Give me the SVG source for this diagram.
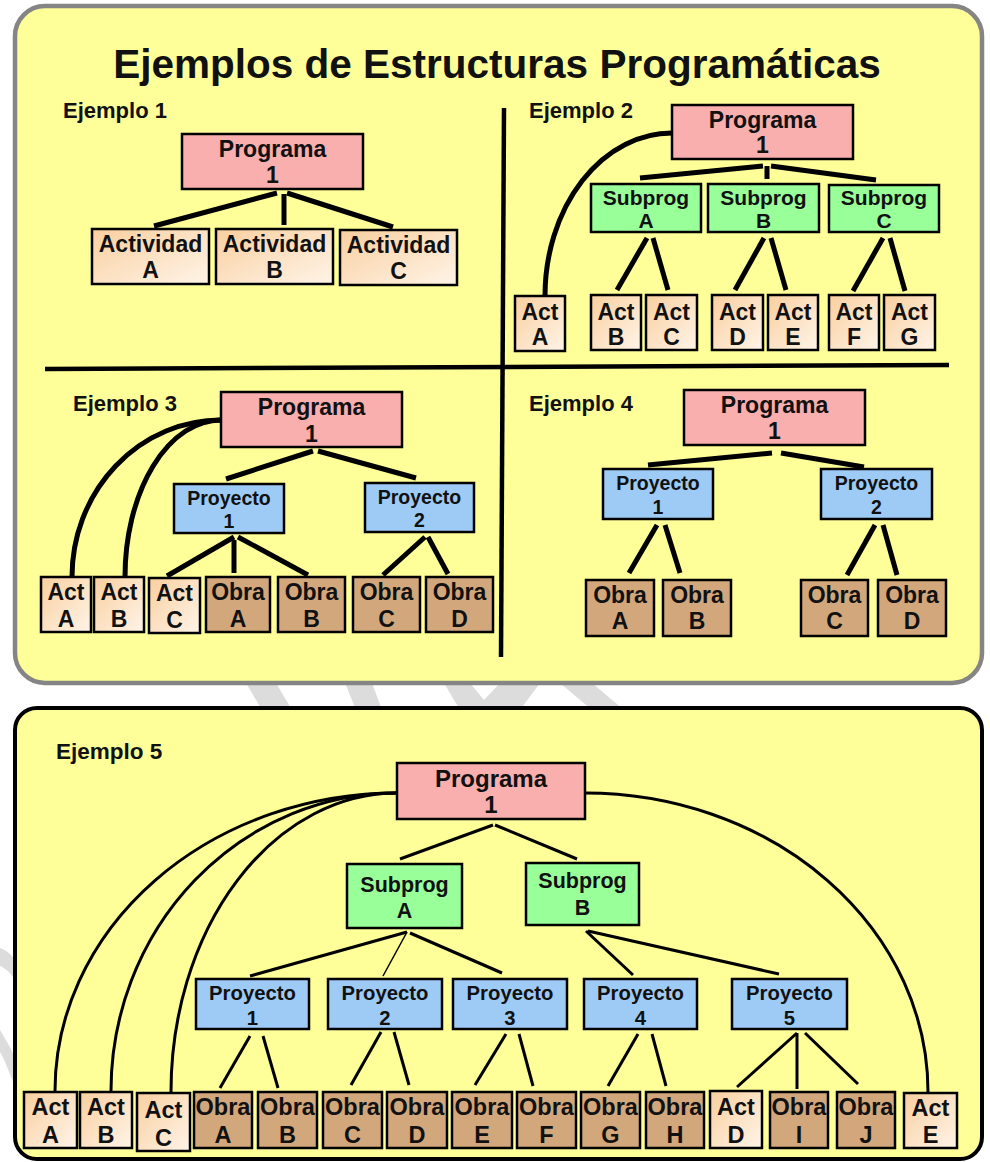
<svg xmlns="http://www.w3.org/2000/svg" width="990" height="1162" viewBox="0 0 990 1162">
<defs>
<linearGradient id="actg" x1="0" y1="0" x2="1" y2="1">
<stop offset="0" stop-color="#f9cf9f"/>
<stop offset="1" stop-color="#fff4e8"/>
</linearGradient>
<style>
.bx{stroke:#000;stroke-width:2.5}
.pg{fill:#f8afad}
.sp{fill:#99ff99}
.pr{fill:#9ecbf5}
.ob{fill:#d2a77c}
.ac{fill:url(#actg)}
text{font-family:"Liberation Sans",Arial,sans-serif;font-weight:bold;fill:#111}
.t{text-anchor:middle}
.f23{font-size:23px}
.f21{font-size:21px}
.f19{font-size:19.5px}
.f24{font-size:23.5px}
.lab{font-size:22px}
.c1{stroke:#000;stroke-width:5;fill:none}
.c2{stroke:#000;stroke-width:3;fill:none}
.wm{fill:#dcdcdc}
</style>
</defs>
<rect width="990" height="1162" fill="#fff"/>
<!-- watermark fragments -->
<g id="watermark">
<path class="wm" d="M246,683 L276,683 L292,710 L262,710 Z"/>
<path class="wm" d="M345,683 L372,683 L382,710 L356,710 Z"/>
<path class="wm" d="M444,683 L470,683 L484,700 L500,683 L540,683 L520,710 L460,710 Z"/>
<path class="wm" d="M560,683 L592,683 L624,710 L592,710 Z"/>
<path class="wm" d="M0,948 C6,950 12,955 15,960 L15,980 C10,972 5,968 0,966 Z"/>
<path class="wm" d="M0,1030 C6,1040 12,1050 15,1058 L15,1086 C10,1075 5,1060 0,1052 Z"/>
</g>
<g id="panel1">
<rect x="15" y="6" width="967" height="677" rx="30" fill="#ffff99" stroke="#858585" stroke-width="4.5"/>
<text x="497" y="78" class="t" style="font-size:40.5px">Ejemplos de Estructuras Programáticas</text>
<line x1="504" y1="108" x2="501" y2="657" stroke="#000" stroke-width="4.5"/>
<line x1="45" y1="369" x2="949" y2="365" stroke="#000" stroke-width="4.5"/>
<text x="63" y="118" class="lab">Ejemplo 1</text>
<text x="529" y="118" class="lab">Ejemplo 2</text>
<text x="73" y="411" class="lab">Ejemplo 3</text>
<text x="529" y="411" class="lab">Ejemplo 4</text>
</g>
<g id="panel2">
<rect x="15" y="708" width="967" height="451" rx="22" fill="#ffff99" stroke="#000" stroke-width="4"/>
<text x="56" y="759" class="lab" style="font-size:22.5px">Ejemplo 5</text>
</g>

<g id="connectors">
<!-- Ejemplo 1 -->
<line class="c1" x1="277" y1="193" x2="154" y2="226"/>
<line class="c1" x1="284" y1="194" x2="284" y2="225"/>
<line class="c1" x1="287" y1="193" x2="393" y2="227"/>
<!-- Ejemplo 2 -->
<path class="c1" d="M672,133 A127,163 0 0 0 545,296"/>
<line class="c1" x1="763" y1="166" x2="640" y2="178"/>
<line class="c1" x1="767" y1="166" x2="767" y2="179"/>
<line class="c1" x1="771" y1="166" x2="876" y2="180"/>
<line class="c1" x1="647" y1="238" x2="617" y2="290"/>
<line class="c1" x1="653" y1="238" x2="668" y2="290"/>
<line class="c1" x1="764" y1="238" x2="735" y2="290"/>
<line class="c1" x1="771" y1="238" x2="786" y2="290"/>
<line class="c1" x1="883" y1="238" x2="853" y2="291"/>
<line class="c1" x1="890" y1="238" x2="905" y2="291"/>
<!-- Ejemplo 3 -->
<path class="c1" d="M221,420 A149,157 0 0 0 72,577"/>
<path class="c1" d="M221,420 A96,157 0 0 0 125,577"/>
<line class="c1" x1="313" y1="451" x2="226" y2="479"/>
<line class="c1" x1="318" y1="451" x2="416" y2="478"/>
<line class="c1" x1="234" y1="537" x2="167" y2="576"/>
<line class="c1" x1="234" y1="540" x2="234" y2="573"/>
<line class="c1" x1="238" y1="537" x2="308" y2="575"/>
<line class="c1" x1="425" y1="537" x2="383" y2="575"/>
<line class="c1" x1="428" y1="537" x2="448" y2="574"/>
<!-- Ejemplo 4 -->
<line class="c1" x1="772" y1="453" x2="648" y2="465"/>
<line class="c1" x1="781" y1="453" x2="864" y2="467"/>
<line class="c1" x1="657" y1="525" x2="629" y2="573"/>
<line class="c1" x1="665" y1="525" x2="680" y2="573"/>
<line class="c1" x1="875" y1="525" x2="847" y2="575"/>
<line class="c1" x1="883" y1="525" x2="897" y2="575"/>
<!-- Ejemplo 5 -->
<path class="c2" d="M397,793 A342,298 0 0 0 55,1091"/>
<path class="c2" d="M397,793 A286,298 0 0 0 111,1091"/>
<path class="c2" d="M397,793 A226,299 0 0 0 171,1092"/>
<path class="c2" d="M585,793 A343,299 0 0 1 928,1092"/>
<line class="c2" x1="493" y1="825" x2="400" y2="859"/>
<line class="c2" x1="495" y1="825" x2="577" y2="859"/>
<line class="c2" x1="407" y1="932" x2="250" y2="976"/>
<line stroke="#000" stroke-width="1.5" x1="407" y1="932" x2="383" y2="976"/>
<line class="c2" x1="410" y1="933" x2="502" y2="973"/>
<line class="c2" x1="586" y1="931" x2="633" y2="975"/>
<line class="c2" x1="588" y1="931" x2="779" y2="974"/>
<line class="c2" x1="250" y1="1036" x2="220" y2="1088"/>
<line class="c2" x1="263" y1="1036" x2="278" y2="1088"/>
<line class="c2" x1="381" y1="1032" x2="351" y2="1085"/>
<line class="c2" x1="394" y1="1032" x2="409" y2="1085"/>
<line class="c2" x1="506" y1="1034" x2="475" y2="1085"/>
<line class="c2" x1="519" y1="1034" x2="533" y2="1086"/>
<line class="c2" x1="638" y1="1034" x2="608" y2="1086"/>
<line class="c2" x1="652" y1="1034" x2="666" y2="1086"/>
<line class="c2" x1="797" y1="1033" x2="737" y2="1087"/>
<line class="c2" x1="797" y1="1033" x2="797" y2="1089"/>
<line class="c2" x1="805" y1="1033" x2="858" y2="1084"/>
</g>

<!-- Ejemplo 1 nodes -->
<g id="e1-programa"><rect class="bx pg" x="182" y="134" width="181" height="55"/><text class="t f23" x="272.5" y="157">Programa</text><text class="t f23" x="272.5" y="183">1</text></g>
<g id="e1-actA"><rect class="bx ac" x="92" y="229" width="117" height="55"/><text class="t f23" x="150.5" y="252">Actividad</text><text class="t f23" x="150.5" y="278">A</text></g>
<g id="e1-actB"><rect class="bx ac" x="216" y="229" width="117" height="55"/><text class="t f23" x="274.5" y="252">Actividad</text><text class="t f23" x="274.5" y="278">B</text></g>
<g id="e1-actC"><rect class="bx ac" x="340" y="230" width="117" height="55"/><text class="t f23" x="398.5" y="253">Actividad</text><text class="t f23" x="398.5" y="279">C</text></g>

<!-- Ejemplo 2 nodes -->
<g id="e2-programa"><rect class="bx pg" x="672" y="105" width="181" height="54"/><text class="t f23" x="762.5" y="128">Programa</text><text class="t f23" x="762.5" y="153">1</text></g>
<g id="e2-subA"><rect class="bx sp" x="591" y="184" width="110" height="48"/><text class="t f21" x="646" y="205">Subprog</text><text class="t f21" x="646" y="228">A</text></g>
<g id="e2-subB"><rect class="bx sp" x="708" y="184" width="111" height="48"/><text class="t f21" x="763.5" y="205">Subprog</text><text class="t f21" x="763.5" y="228">B</text></g>
<g id="e2-subC"><rect class="bx sp" x="829" y="185" width="110" height="47"/><text class="t f21" x="884" y="205">Subprog</text><text class="t f21" x="884" y="228">C</text></g>
<g id="e2-actA"><rect class="bx ac" x="515" y="296" width="50" height="55"/><text class="t f23" x="540" y="320">Act</text><text class="t f23" x="540" y="345">A</text></g>
<g id="e2-actB"><rect class="bx ac" x="591" y="295" width="50" height="55"/><text class="t f23" x="616" y="320">Act</text><text class="t f23" x="616" y="345">B</text></g>
<g id="e2-actC"><rect class="bx ac" x="646" y="295" width="51" height="55"/><text class="t f23" x="671.5" y="320">Act</text><text class="t f23" x="671.5" y="345">C</text></g>
<g id="e2-actD"><rect class="bx ac" x="712" y="295" width="51" height="55"/><text class="t f23" x="737.5" y="320">Act</text><text class="t f23" x="737.5" y="345">D</text></g>
<g id="e2-actE"><rect class="bx ac" x="768" y="295" width="50" height="55"/><text class="t f23" x="793" y="320">Act</text><text class="t f23" x="793" y="345">E</text></g>
<g id="e2-actF"><rect class="bx ac" x="829" y="295" width="50" height="55"/><text class="t f23" x="854" y="320">Act</text><text class="t f23" x="854" y="345">F</text></g>
<g id="e2-actG"><rect class="bx ac" x="884" y="295" width="51" height="55"/><text class="t f23" x="909.5" y="320">Act</text><text class="t f23" x="909.5" y="345">G</text></g>

<!-- Ejemplo 3 nodes -->
<g id="e3-programa"><rect class="bx pg" x="221" y="392" width="181" height="55"/><text class="t f23" x="311.5" y="415">Programa</text><text class="t f23" x="311.5" y="442">1</text></g>
<g id="e3-proy1"><rect class="bx pr" x="174" y="484" width="110" height="49"/><text class="t f19" x="229" y="505">Proyecto</text><text class="t f19" x="229" y="528">1</text></g>
<g id="e3-proy2"><rect class="bx pr" x="365" y="483" width="109" height="49"/><text class="t f19" x="419.5" y="504">Proyecto</text><text class="t f19" x="419.5" y="527">2</text></g>
<g id="e3-actA"><rect class="bx ac" x="41" y="577" width="50" height="55"/><text class="t f23" x="66" y="600">Act</text><text class="t f23" x="66" y="627">A</text></g>
<g id="e3-actB"><rect class="bx ac" x="94" y="577" width="50" height="55"/><text class="t f23" x="119" y="600">Act</text><text class="t f23" x="119" y="627">B</text></g>
<g id="e3-actC"><rect class="bx ac" x="149" y="578" width="51" height="55"/><text class="t f23" x="174.5" y="601">Act</text><text class="t f23" x="174.5" y="628">C</text></g>
<g id="e3-obraA"><rect class="bx ob" x="206" y="577" width="64" height="55"/><text class="t f23" x="238" y="600">Obra</text><text class="t f23" x="238" y="627">A</text></g>
<g id="e3-obraB"><rect class="bx ob" x="278" y="577" width="67" height="55"/><text class="t f23" x="311.5" y="600">Obra</text><text class="t f23" x="311.5" y="627">B</text></g>
<g id="e3-obraC"><rect class="bx ob" x="353" y="577" width="67" height="55"/><text class="t f23" x="386.5" y="600">Obra</text><text class="t f23" x="386.5" y="627">C</text></g>
<g id="e3-obraD"><rect class="bx ob" x="426" y="577" width="67" height="55"/><text class="t f23" x="459.5" y="600">Obra</text><text class="t f23" x="459.5" y="627">D</text></g>

<!-- Ejemplo 4 nodes -->
<g id="e4-programa"><rect class="bx pg" x="684" y="390" width="181" height="55"/><text class="t f23" x="774.5" y="413">Programa</text><text class="t f23" x="774.5" y="439">1</text></g>
<g id="e4-proy1"><rect class="bx pr" x="603" y="469" width="110" height="50"/><text class="t f19" x="658" y="490">Proyecto</text><text class="t f19" x="658" y="514">1</text></g>
<g id="e4-proy2"><rect class="bx pr" x="821" y="469" width="111" height="50"/><text class="t f19" x="876.5" y="490">Proyecto</text><text class="t f19" x="876.5" y="514">2</text></g>
<g id="e4-obraA"><rect class="bx ob" x="586" y="580" width="68" height="56"/><text class="t f23" x="620" y="603">Obra</text><text class="t f23" x="620" y="629">A</text></g>
<g id="e4-obraB"><rect class="bx ob" x="663" y="580" width="68" height="56"/><text class="t f23" x="697" y="603">Obra</text><text class="t f23" x="697" y="629">B</text></g>
<g id="e4-obraC"><rect class="bx ob" x="801" y="580" width="67" height="56"/><text class="t f23" x="834.5" y="603">Obra</text><text class="t f23" x="834.5" y="629">C</text></g>
<g id="e4-obraD"><rect class="bx ob" x="878" y="580" width="68" height="56"/><text class="t f23" x="912" y="603">Obra</text><text class="t f23" x="912" y="629">D</text></g>

<!-- Ejemplo 5 nodes -->
<g id="e5-programa"><rect class="bx pg" x="397" y="763" width="188" height="56"/><text class="t" style="font-size:24px" x="491" y="787">Programa</text><text class="t" style="font-size:24px" x="491" y="813">1</text></g>
<g id="e5-subA"><rect class="bx sp" x="347" y="864" width="115" height="64"/><text class="t" style="font-size:21.5px" x="404.5" y="892">Subprog</text><text class="t" style="font-size:21.5px" x="404.5" y="918">A</text></g>
<g id="e5-subB"><rect class="bx sp" x="526" y="863" width="113" height="62"/><text class="t" style="font-size:21.5px" x="582.5" y="888">Subprog</text><text class="t" style="font-size:21.5px" x="582.5" y="915">B</text></g>
<g id="e5-proy1"><rect class="bx pr" x="196" y="979" width="113" height="50"/><text class="t" style="font-size:20.3px" x="252.5" y="1000">Proyecto</text><text class="t" style="font-size:20.3px" x="252.5" y="1025">1</text></g>
<g id="e5-proy2"><rect class="bx pr" x="328" y="979" width="114" height="50"/><text class="t" style="font-size:20.3px" x="385" y="1000">Proyecto</text><text class="t" style="font-size:20.3px" x="385" y="1025">2</text></g>
<g id="e5-proy3"><rect class="bx pr" x="453" y="979" width="114" height="50"/><text class="t" style="font-size:20.3px" x="510" y="1000">Proyecto</text><text class="t" style="font-size:20.3px" x="510" y="1025">3</text></g>
<g id="e5-proy4"><rect class="bx pr" x="584" y="979" width="113" height="50"/><text class="t" style="font-size:20.3px" x="640.5" y="1000">Proyecto</text><text class="t" style="font-size:20.3px" x="640.5" y="1025">4</text></g>
<g id="e5-proy5"><rect class="bx pr" x="732" y="979" width="115" height="50"/><text class="t" style="font-size:20.3px" x="789.5" y="1000">Proyecto</text><text class="t" style="font-size:20.3px" x="789.5" y="1025">5</text></g>
<g id="e5-actA"><rect class="bx ac" x="24" y="1092" width="53" height="56"/><text class="t f24" x="50.5" y="1115">Act</text><text class="t f24" x="50.5" y="1143">A</text></g>
<g id="e5-actB"><rect class="bx ac" x="80" y="1092" width="52" height="56"/><text class="t f24" x="106" y="1115">Act</text><text class="t f24" x="106" y="1143">B</text></g>
<g id="e5-actC"><rect class="bx ac" x="137" y="1093" width="53" height="58"/><text class="t f24" x="163.5" y="1118">Act</text><text class="t f24" x="163.5" y="1146">C</text></g>
<g id="e5-obraA"><rect class="bx ob" x="194" y="1092" width="58" height="56"/><text class="t f24" x="223" y="1115">Obra</text><text class="t f24" x="223" y="1143">A</text></g>
<g id="e5-obraB"><rect class="bx ob" x="258" y="1092" width="59" height="56"/><text class="t f24" x="287.5" y="1115">Obra</text><text class="t f24" x="287.5" y="1143">B</text></g>
<g id="e5-obraC"><rect class="bx ob" x="323" y="1092" width="59" height="56"/><text class="t f24" x="352.5" y="1115">Obra</text><text class="t f24" x="352.5" y="1143">C</text></g>
<g id="e5-obraD"><rect class="bx ob" x="387" y="1092" width="60" height="56"/><text class="t f24" x="417" y="1115">Obra</text><text class="t f24" x="417" y="1143">D</text></g>
<g id="e5-obraE"><rect class="bx ob" x="452" y="1092" width="60" height="56"/><text class="t f24" x="482" y="1115">Obra</text><text class="t f24" x="482" y="1143">E</text></g>
<g id="e5-obraF"><rect class="bx ob" x="517" y="1092" width="59" height="56"/><text class="t f24" x="546.5" y="1115">Obra</text><text class="t f24" x="546.5" y="1143">F</text></g>
<g id="e5-obraG"><rect class="bx ob" x="581" y="1092" width="59" height="56"/><text class="t f24" x="610.5" y="1115">Obra</text><text class="t f24" x="610.5" y="1143">G</text></g>
<g id="e5-obraH"><rect class="bx ob" x="646" y="1092" width="58" height="56"/><text class="t f24" x="675" y="1115">Obra</text><text class="t f24" x="675" y="1143">H</text></g>
<g id="e5-actD"><rect class="bx ac" x="710" y="1091" width="52" height="57"/><text class="t f24" x="736" y="1115">Act</text><text class="t f24" x="736" y="1143">D</text></g>
<g id="e5-obraI"><rect class="bx ob" x="770" y="1092" width="58" height="56"/><text class="t f24" x="799" y="1115">Obra</text><text class="t f24" x="799" y="1143">I</text></g>
<g id="e5-obraJ"><rect class="bx ob" x="837" y="1092" width="58" height="56"/><text class="t f24" x="866" y="1115">Obra</text><text class="t f24" x="866" y="1143">J</text></g>
<g id="e5-actE"><rect class="bx ac" x="904" y="1093" width="53" height="55"/><text class="t f24" x="930.5" y="1116">Act</text><text class="t f24" x="930.5" y="1143">E</text></g>
</svg>
